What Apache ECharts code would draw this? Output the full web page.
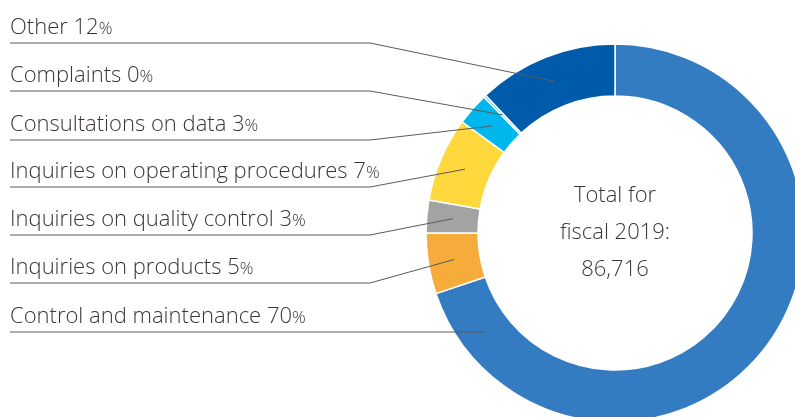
<!DOCTYPE html>
<html>
<head>
<meta charset="utf-8">
<script src="https://cdn.jsdelivr.net/npm/echarts@6/dist/echarts.min.js"></script>
<style>
html, body { margin: 0; padding: 0; background: #fff; }
#chart { width: 795px; height: 417px; }
</style>
</head>
<body>
<div id="chart"></div>
<script>
// segments, clockwise from 12 o'clock
const categories = [
  'Control and maintenance',
  'Inquiries on products',
  'Inquiries on quality control',
  'Inquiries on operating procedures',
  'Consultations on data',
  'Complaints',
  'Other'
];
// share of the ring (%)
const shares = [69.8, 5.2, 2.8, 7.2, 2.8, 0.2, 12.0];
// percentages as printed on the labels
const printedPct = [70, 5, 3, 7, 3, 0, 12];
const colors = ['#347cc1', '#f5ac3b', '#a3a3a3', '#ffd83d', '#00b7ed', '#00b7ed', '#005baa'];
const totalLines = ['Total for', 'fiscal 2019:', '86,716'];

// layout
const cx = 615, cy = 233;
const rIn = 137, rOut = 189;
const rLine = 163;             // where the leader lines end inside the ring
const underlineY = [332, 283, 235, 187, 140, 91, 43];
const bendX = 370, leftX = 10;
const FONT = '"Open Sans", Lato, sans-serif';
const TEXT = '#3b3634';

// fallback mid angles from the shares (used only if the library gives no points)
function midAngle(i) {
  const tot = shares.reduce((a, b) => a + b, 0);
  let acc = 0;
  for (let k = 0; k < i; k++) acc += shares[k];
  acc += shares[i] / 2;
  return -Math.PI / 2 + (acc / tot) * Math.PI * 2;
}

const chart = echarts.init(document.getElementById('chart'));

const ring = {
  type: 'pie',
  center: [cx, cy],
  radius: [rIn, rOut],
  startAngle: 90,
  clockwise: true,
  silent: true,
  emphasis: { disabled: true }
};

chart.setOption({
  animation: false,
  series: [
    // coloured ring
    Object.assign({}, ring, {
      z: 2,
      itemStyle: { borderColor: '#fff', borderWidth: 1.5 },
      label: { show: false },
      labelLine: { show: false },
      data: categories.map((c, i) => ({
        name: c,
        value: shares[i],
        itemStyle: { color: colors[i] }
      }))
    }),
    // same ring, invisible, carries labels so the leader lines lie on top
    Object.assign({}, ring, {
      z: 3,
      itemStyle: { color: 'rgba(0,0,0,0)', borderWidth: 0 },
      avoidLabelOverlap: false,
      label: {
        show: true,
        position: 'outside',
        formatter: p => '{n|' + categories[p.dataIndex] + ' ' + printedPct[p.dataIndex] + '}{p|%}',
        rich: {
          n: { fontFamily: FONT, fontWeight: 300, fontSize: 22, color: TEXT },
          p: { fontFamily: FONT, fontWeight: 300, fontSize: 17, color: TEXT, padding: [3, 0, 0, 0] }
        }
      },
      labelLine: {
        show: true,
        lineStyle: { color: '#5a5a5a', width: 1 }
      },
      labelLayout: function (p) {
        const i = p.dataIndex;
        const uy = underlineY[i];
        let sx, sy;
        if (i === 0) {
          sy = uy;
          sx = cx - Math.sqrt(rLine * rLine - (uy - cy) * (uy - cy));
        } else {
          let a;
          if (p.labelLinePoints && p.labelLinePoints[0]) {
            const p0 = p.labelLinePoints[0];
            a = Math.atan2(p0[1] - cy, p0[0] - cx);
          } else {
            a = midAngle(i);
          }
          sx = cx + rLine * Math.cos(a);
          sy = cy + rLine * Math.sin(a);
        }
        return {
          x: leftX,
          y: uy - 4,
          align: 'left',
          verticalAlign: 'bottom',
          labelLinePoints: [[sx, sy], [bendX, uy], [leftX, uy]]
        };
      },
      data: categories.map((c, i) => ({ name: c, value: shares[i] }))
    })
  ],
  graphic: [{
    type: 'text',
    x: cx,
    y: cy,
    style: {
      text: totalLines.join('\n'),
      fontFamily: FONT,
      fontWeight: 300,
      fontSize: 22,
      lineHeight: 37,
      fill: TEXT,
      align: 'center',
      verticalAlign: 'middle'
    }
  }]
});
</script>
</body>
</html>
